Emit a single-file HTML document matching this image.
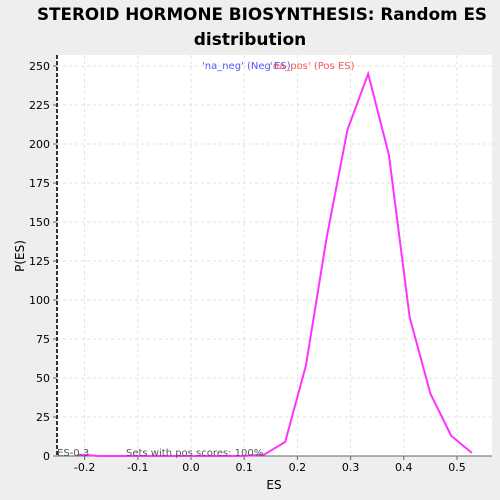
<!DOCTYPE html>
<html><head><meta charset="utf-8"><style>
body{margin:0;background:#eeeeee;font-family:"Liberation Sans","DejaVu Sans",sans-serif;overflow:hidden;}
svg{display:block;}
svg text{font-family:"DejaVu Sans","Liberation Sans",sans-serif;}
</style></head><body>
<svg width="500" height="500">
<rect width="500" height="500" fill="#eeeeee"/>
<text x="262" y="20" text-anchor="middle" font-size="17" font-weight="bold" textLength="450" lengthAdjust="spacingAndGlyphs">STEROID HORMONE BIOSYNTHESIS: Random ES</text>
<text x="250" y="45" text-anchor="middle" font-size="17" font-weight="bold">distribution</text>
<rect x="57" y="55" width="435" height="401" fill="#fff"/>
<g id="grid"></g>
<g id="axes"></g>
<polyline id="line" fill="none" stroke="#ff33ff" stroke-width="2"/>
<line x1="57" y1="55" x2="57" y2="456" stroke="#333" stroke-width="2" stroke-dasharray="4,2"/>
<text x="202" y="69" font-size="10" fill="#5555ff">'na_neg' (Neg ES)</text>
<text x="270" y="69" font-size="10" fill="#ff5555">'na_pos' (Pos ES)</text>
<text x="57" y="456" font-size="10" fill="#555">ES-0.3</text>
<text x="126" y="456" font-size="10" fill="#555">Sets with pos scores: 100%</text>
<text x="274" y="489" text-anchor="middle" font-size="12">ES</text>
<text x="24" y="256" text-anchor="middle" font-size="12" transform="rotate(-90 24 256)">P(ES)</text>
</svg>
<script>
const esValues=[-0.213,-0.174,-0.135,-0.096,-0.057,-0.018,0.021,0.06,0.099,0.138,0.177,0.216,0.255,0.294,0.333,0.372,0.411,0.45,0.489,0.528];
const densityValues=[1,0,0,0,0,0,0,0,0,1,9,58,140,209,245,193,89,40,13,2];
const xTicks=[-0.2,-0.1,0.0,0.1,0.2,0.3,0.4,0.5];
const yTicks=[0,25,50,75,100,125,150,175,200,225,250];
const X=v=>191+v*532, Y=v=>456-v*1.56;
const ns="http://www.w3.org/2000/svg";
const g=document.getElementById('grid'), a=document.getElementById('axes');
function mk(t,at,p){const e=document.createElementNS(ns,t);for(const k in at)e.setAttribute(k,at[k]);p.appendChild(e);return e;}
xTicks.forEach(t=>{
 const l=mk('line',{x1:X(t),x2:X(t),y1:55,y2:456,stroke:'#e0e0e0','stroke-dasharray':'3,3'},g);
 
 
 mk('line',{x1:X(t),x2:X(t),y1:456,y2:460,stroke:'#666'},a);
 const tx=mk('text',{x:X(t),y:471,'text-anchor':'middle','font-size':11},a);tx.textContent=t.toFixed(1);
 
 
});
yTicks.forEach(t=>{
 const l=mk('line',{x1:57,x2:492,y1:Y(t),y2:Y(t),stroke:'#e0e0e0','stroke-dasharray':'3,3'},g);
 
 
 mk('line',{x1:53,x2:57,y1:Y(t),y2:Y(t),stroke:'#666'},a);
 const tx=mk('text',{x:50,y:Y(t)+4,'text-anchor':'end','font-size':11},a);tx.textContent=t;
 
 
});
mk('line',{x1:57,x2:492,y1:456,y2:456,stroke:'#666'},a);
document.getElementById('line').setAttribute('points',esValues.map((v,i)=>X(v)+','+Y(densityValues[i])).join(' '));
</script>
</body></html>
